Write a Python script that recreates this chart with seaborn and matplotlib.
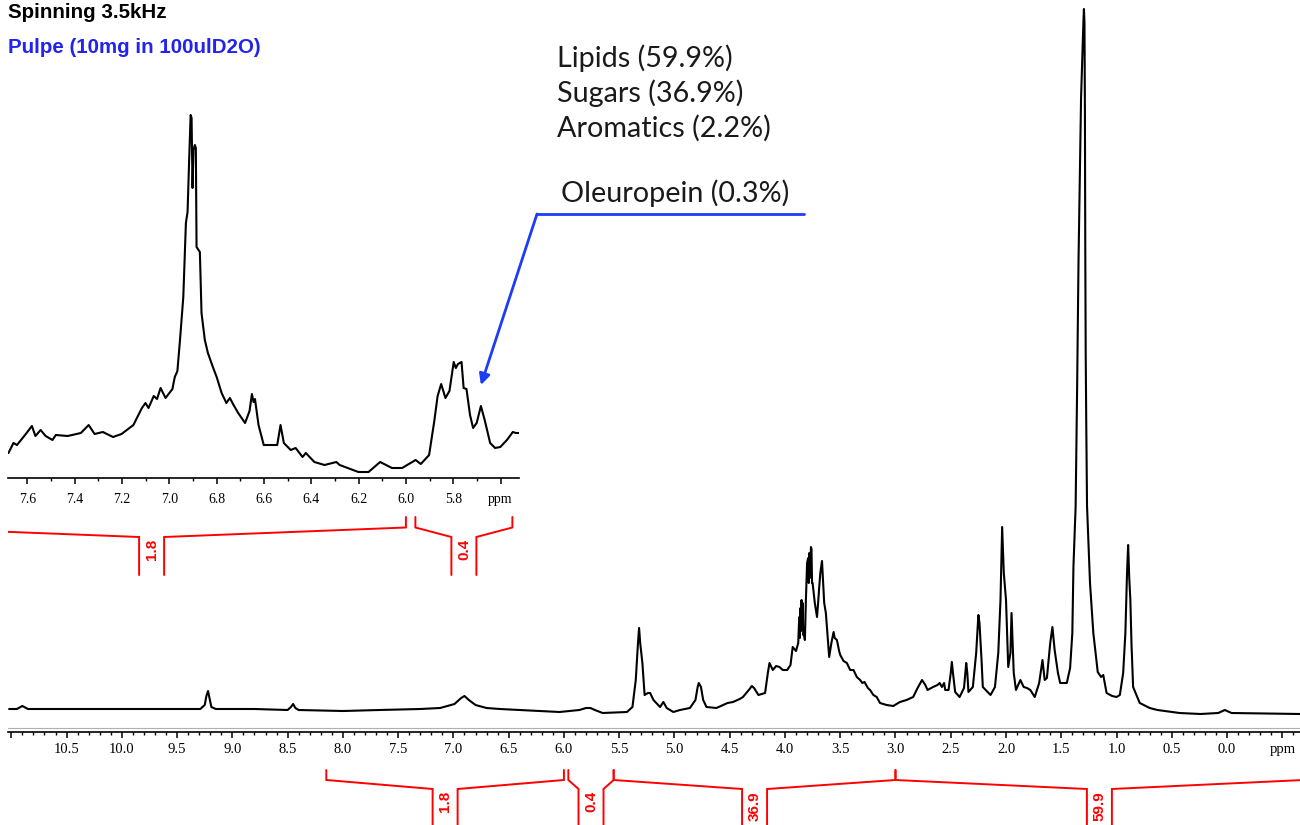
import matplotlib
matplotlib.use("Agg")
import matplotlib.pyplot as plt
import seaborn as sns
from matplotlib.lines import Line2D
from matplotlib.ticker import MultipleLocator
from matplotlib.transforms import blended_transform_factory, Bbox, TransformedBbox

# ---------------------------------------------------------------- data
# 1H HR-MAS spectrum of olive pulp (chemical shift in ppm, intensity in a.u.)
main_ppm = [
    11.02, 10.95, 10.90, 10.85, 10.04, 9.60, 9.29, 9.25, 9.235, 9.22,
    9.205, 9.19, 9.15, 8.80, 8.50, 8.47, 8.45, 8.43, 8.40, 8.00,
    7.67, 7.30, 7.12, 6.99, 6.93, 6.90, 6.86, 6.80, 6.70, 6.58,
    6.40, 6.22, 6.04, 5.95, 5.86, 5.80, 5.76, 5.72, 5.65, 5.43,
    5.38, 5.35, 5.33, 5.32, 5.31, 5.29, 5.27, 5.24, 5.22, 5.19,
    5.13, 5.10, 5.07, 5.01, 4.95, 4.86, 4.81, 4.79, 4.78, 4.76,
    4.74, 4.71, 4.62, 4.52, 4.47, 4.41, 4.38, 4.32, 4.30, 4.28,
    4.24, 4.18, 4.155, 4.14, 4.11, 4.08, 4.05, 4.02, 3.98, 3.95,
    3.93, 3.90, 3.88, 3.875, 3.87, 3.865, 3.86, 3.855, 3.85, 3.845,
    3.84, 3.835, 3.83, 3.82, 3.81, 3.80, 3.79, 3.785, 3.78, 3.775,
    3.77, 3.765, 3.76, 3.755, 3.75, 3.73, 3.71, 3.70, 3.69, 3.68,
    3.665, 3.655, 3.645, 3.63, 3.61, 3.60, 3.58, 3.56, 3.55, 3.53,
    3.51, 3.50, 3.47, 3.44, 3.41, 3.38, 3.35, 3.32, 3.30, 3.28,
    3.25, 3.23, 3.20, 3.17, 3.14, 3.08, 3.02, 2.96, 2.90, 2.84,
    2.80, 2.76, 2.73, 2.71, 2.66, 2.62, 2.60, 2.58, 2.56, 2.55,
    2.52, 2.50, 2.49, 2.48, 2.46, 2.42, 2.38, 2.36, 2.35, 2.34,
    2.30, 2.27, 2.25, 2.24, 2.22, 2.21, 2.14, 2.10, 2.07, 2.05,
    2.035, 2.02, 2.00, 1.98, 1.96, 1.95, 1.94, 1.93, 1.91, 1.87,
    1.84, 1.81, 1.78, 1.74, 1.70, 1.67, 1.65, 1.63, 1.60, 1.58,
    1.56, 1.53, 1.51, 1.45, 1.42, 1.40, 1.39, 1.37, 1.357, 1.344,
    1.321, 1.30, 1.295, 1.29, 1.286, 1.283, 1.279, 1.274, 1.267, 1.24,
    1.21, 1.17, 1.14, 1.12, 1.09, 1.04, 1.00, 0.97, 0.94, 0.92,
    0.905, 0.895, 0.885, 0.875, 0.865, 0.85, 0.79, 0.70, 0.63, 0.43,
    0.24, 0.08, 0.04, 0.02, 0.00, -0.04, -0.66,
]
main_intensity = [
    4, 4, 7, 4, 4, 4, 4, 8, 17, 22,
    14, 6, 4, 4, 3, 6, 9, 5, 3, 2,
    3, 4, 5, 9, 15, 17, 13, 8, 5, 4,
    3, 2, 1, 2, 3, 5, 5, 3, 0, 1,
    6, 33, 70, 85, 70, 50, 18, 20, 20, 13,
    6, 11, 5, 1, 3, 5, 13, 26, 30, 26,
    13, 6, 5, 10, 11, 14, 16, 24, 27, 25,
    18, 20, 40, 50, 43, 47, 46, 43, 43, 48,
    66, 62, 70, 85, 96, 75, 105, 82, 113, 90,
    110, 78, 80, 73, 115, 150, 155, 130, 160, 135,
    145, 166, 164, 130, 130, 110, 96, 110, 126, 140,
    152, 130, 110, 100, 70, 56, 70, 81, 75, 73,
    62, 58, 52, 50, 43, 43, 36, 33, 30, 31,
    25, 23, 18, 16, 10, 8, 7, 11, 13, 16,
    25, 33, 28, 23, 26, 28, 30, 26, 30, 23,
    23, 40, 51, 40, 21, 16, 25, 50, 40, 21,
    26, 60, 98, 90, 50, 26, 18, 26, 60, 113,
    186, 140, 113, 46, 60, 100, 70, 40, 23, 33,
    26, 25, 23, 16, 30, 53, 33, 35, 70, 86,
    63, 40, 30, 30, 45, 80, 146, 207, 321, 452,
    615, 690, 704, 690, 600, 470, 360, 290, 207, 130,
    80, 41, 36, 38, 20, 17, 16, 18, 40, 80,
    140, 168, 135, 113, 70, 26, 10, 5, 3, 0,
    -1, 0, 2, 3, 2, 0, -1,
]

# expansion of the aromatic / olefinic region
inset_ppm = [
    7.680, 7.659, 7.644, 7.610, 7.581, 7.566, 7.544, 7.523, 7.494, 7.480,
    7.430, 7.374, 7.341, 7.316, 7.281, 7.238, 7.202, 7.152, 7.116, 7.101,
    7.088, 7.066, 7.052, 7.037, 7.016, 6.987, 6.977, 6.966, 6.955, 6.941,
    6.930, 6.923, 6.916, 6.910, 6.906, 6.902, 6.898, 6.892, 6.888, 6.885,
    6.871, 6.864, 6.850, 6.837, 6.816, 6.800, 6.779, 6.759, 6.744, 6.731,
    6.709, 6.680, 6.661, 6.651, 6.644, 6.638, 6.623, 6.601, 6.544, 6.530,
    6.516, 6.487, 6.466, 6.437, 6.423, 6.387, 6.344, 6.294, 6.280, 6.201,
    6.158, 6.109, 6.059, 6.016, 5.959, 5.937, 5.902, 5.880, 5.866, 5.851,
    5.833, 5.816, 5.798, 5.789, 5.780, 5.765, 5.756, 5.744, 5.729, 5.716,
    5.701, 5.683, 5.666, 5.644, 5.623, 5.601, 5.573, 5.548, 5.535, 5.522,
]
inset_intensity = [
    19, 29, 27, 37, 46, 36, 42, 36, 32, 37,
    36, 39, 47, 38, 40, 35, 38, 47, 64, 69,
    64, 76, 73, 84, 74, 83, 95, 101, 132, 175,
    249, 260, 314, 357, 354, 284, 322, 327, 324, 225,
    220, 159, 132, 119, 105, 95, 79, 69, 74, 68,
    59, 49, 61, 78, 70, 73, 47, 27, 27, 47,
    29, 22, 24, 15, 19, 10, 7, 10, 7, 0,
    0, 10, 4, 4, 12, 8, 17, 51, 76, 88,
    74, 81, 110, 104, 108, 110, 84, 83, 57, 44,
    49, 66, 51, 29, 24, 25, 32, 40, 39, 39,
]

# integrated regions (ppm limits) and relative areas
integral_start = [8.15, 5.96, 5.55, 3.00]
integral_end = [6.00, 5.55, 3.00, -0.69]
integral_value = ["1.8", "0.4", "36.9", "59.9"]
inset_integrals = 2   # the first two regions also fall inside the expansion

# axis ticks
main_ticks = [11.0, 10.5, 10.0, 9.5, 9.0, 8.5, 8.0, 7.5, 7.0, 6.5, 6.0, 5.5,
              5.0, 4.5, 4.0, 3.5, 3.0, 2.5, 2.0, 1.5, 1.0, 0.5, 0.0, -0.5]
main_tick_labels = ["", "10.5", "10.0", "9.5", "9.0", "8.5", "8.0", "7.5",
                    "7.0", "6.5", "6.0", "5.5", "5.0", "4.5", "4.0", "3.5",
                    "3.0", "2.5", "2.0", "1.5", "1.0", "0.5", "0.0", "ppm"]
inset_ticks = [7.6, 7.4, 7.2, 7.0, 6.8, 6.6, 6.4, 6.2, 6.0, 5.8, 5.6]
inset_tick_labels = ["7.6", "7.4", "7.2", "7.0", "6.8", "6.6", "6.4", "6.2",
                     "6.0", "5.8", "ppm"]

# composition summary
classes = ["Lipids", "Sugars", "Aromatics"]
class_percent = [59.9, 36.9, 2.2]
marker_name = "Oleuropein"
marker_percent = 0.3
marker_peak = (5.683, 87)   # ppm, intensity of the arrow target

title_line = "Spinning 3.5kHz"
sample_line = "Pulpe (10mg in 100ulD2O)"

# ---------------------------------------------------------------- style
sns.set_style("white")
plt.rcParams["font.family"] = ["Liberation Sans", "DejaVu Sans"]

W, H = 1300, 825
BLUE = "#1e3cf5"
TEXT_BLUE = "#2323f0"
RED = "#ff0000"


def fx(px):
    return px / W


def fy(py):
    return 1 - py / H


fig = plt.figure(figsize=(W / 100, H / 100), dpi=100)

# ---------------------------------------------------------------- full spectrum
ax = fig.add_axes([fx(8), fy(728), fx(1292), 720 / H])
sns.lineplot(x=main_ppm, y=main_intensity, ax=ax, color="black",
             lw=1.5, sort=False, estimator=None)
ax.set_xlim(11.03, -0.66)
ax.set_ylim(-15, 705)
ax.set_facecolor("white")
for side in ["left", "right", "top"]:
    ax.spines[side].set_visible(False)
ax.spines["bottom"].set_position(("outward", 3.2))
ax.spines["bottom"].set_color("black")
ax.spines["bottom"].set_linewidth(1.2)
ax.axhline(-15, color="#b0b0b0", lw=0.8, clip_on=False)
ax.set_yticks([])
ax.set_xticks(main_ticks, main_tick_labels, fontfamily="Liberation Serif",
              fontsize=10.5)
ax.xaxis.set_minor_locator(MultipleLocator(0.1))
ax.tick_params(axis="x", which="major", bottom=True, direction="out",
               length=4.6, width=1.1, pad=3, colors="black")
ax.tick_params(axis="x", which="minor", bottom=True, direction="out",
               length=2.4, width=1.0, colors="black")
ax.set_xlabel("")
ax.set_ylabel("")

# ---------------------------------------------------------------- expansion
axi = fig.add_axes([fx(8), fy(478), fx(511), 368 / H])
sns.lineplot(x=inset_ppm, y=inset_intensity, ax=axi, color="black",
             lw=1.5, sort=False, estimator=None)
axi.set_xlim(7.682, 5.522)
axi.set_ylim(-6, 362)
axi.set_facecolor("none")
for side in ["left", "right", "top"]:
    axi.spines[side].set_visible(False)
axi.spines["bottom"].set_color("black")
axi.spines["bottom"].set_linewidth(1.2)
axi.set_yticks([])
axi.set_xticks(inset_ticks, inset_tick_labels, fontfamily="Liberation Serif",
               fontsize=10)
axi.xaxis.set_minor_locator(MultipleLocator(0.1))
axi.tick_params(axis="x", which="major", bottom=True, direction="out",
                length=4.6, width=1.1, pad=6.5, colors="black")
axi.tick_params(axis="x", which="minor", bottom=True, direction="out",
                length=2.4, width=1.0, colors="black")
axi.set_xlabel("")
axi.set_ylabel("")


# ---------------------------------------------------------------- integral brackets
def draw_integrals(axes, starts, ends, values, y_tick, y_end, y_tube,
                   y_bottom, y_text, fontsize):
    trans = blended_transform_factory(axes.transData, fig.transFigure)
    pos = axes.get_position()
    clip = TransformedBbox(Bbox([[pos.x0, 0], [pos.x1, 1]]), fig.transFigure)
    inv = axes.transData.inverted()
    half = 12.5  # half width of the label tube, in pixels
    for s, e, v in zip(starts, ends, values):
        c = (s + e) / 2
        cx = axes.transData.transform((c, 0))[0]
        cl = inv.transform((cx - half, 0))[0]
        cr = inv.transform((cx + half, 0))[0]
        for xs, ys in (([s, s, cl, cl], [y_tick, y_end, y_tube, y_bottom]),
                       ([e, e, cr, cr], [y_tick, y_end, y_tube, y_bottom])):
            ln = Line2D(xs, ys, transform=trans, color=RED, lw=1.4,
                        solid_joinstyle="miter")
            ln.set_clip_on(True)
            ln.set_clip_box(clip)
            fig.add_artist(ln)
        fig.text(0, 0, v, transform=trans, rotation=90, ha="center",
                 va="top", color=RED, fontsize=fontsize, fontweight="bold",
                 position=(c, y_text))


draw_integrals(ax, integral_start, integral_end, integral_value,
               fy(770), fy(780), fy(789), fy(860), fy(791), 11)
draw_integrals(axi, integral_start[:inset_integrals],
               integral_end[:inset_integrals],
               integral_value[:inset_integrals],
               fy(517), fy(527.5), fy(537), fy(575), fy(538.5), 11)

# ---------------------------------------------------------------- annotations
fig.text(fx(8), fy(3), title_line, fontsize=14.8, fontweight="bold",
         color="black", ha="left", va="top")
fig.text(fx(8), fy(53), sample_line, fontsize=14.8, fontweight="bold",
         color=TEXT_BLUE, ha="left", va="baseline")

for i, (name, pct) in enumerate(zip(classes, class_percent)):
    fig.text(fx(557), fy(67 + 35 * i), f"{name} ({pct}%)",
             fontfamily=["Lato", "DejaVu Sans"], fontsize=20.7,
             color="#1a1a1a", ha="left", va="baseline")
fig.text(fx(561), fy(202), f"{marker_name} ({marker_percent}%)",
         fontfamily=["Lato", "DejaVu Sans"], fontsize=20.7,
         color="#1a1a1a", ha="left", va="baseline")

fig.add_artist(Line2D([fx(804), fx(537)], [fy(214), fy(214)],
                      transform=fig.transFigure, color=BLUE, lw=2.0))
axi.annotate("", xy=marker_peak, xycoords="data",
             xytext=(fx(537), fy(214)), textcoords="figure fraction",
             arrowprops=dict(arrowstyle="-|>", color=BLUE, lw=2.0,
                             mutation_scale=16, shrinkA=0, shrinkB=0),
             annotation_clip=False)

fig.savefig("out.png", dpi=100)
